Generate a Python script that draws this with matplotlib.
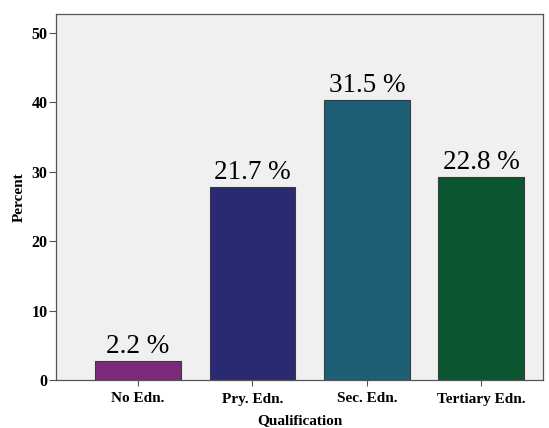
import numpy as np
import matplotlib.pyplot as plt

categories = ['No Edn.', 'Pry. Edn.', 'Sec. Edn.', 'Tertiary Edn.']
heights = [2.7, 27.8, 40.3, 29.2]
labels = ['2.2 %', '21.7 %', '31.5 %', '22.8 %']
colors = ['#7b2a7b', '#2a2a72', '#1e5f75', '#0b5530']

plt.rcParams['font.family'] = ['Liberation Serif', 'DejaVu Serif']

fig = plt.figure(figsize=(5.49, 4.28), dpi=100)
ax = fig.add_axes([56 / 549, 1 - 380 / 428, 487 / 549, 366 / 428])
ax.set_facecolor('#f0f0f0')

x = np.arange(len(categories))
ax.bar(x, heights, width=0.75, color=colors, edgecolor='#3a3a3a', linewidth=0.8)

for xi, h, lab in zip(x, heights, labels):
    ax.text(xi, h + 0.3, lab, ha='center', va='bottom', fontsize=19.5)

ax.set_xlim(-0.717, 3.54)
ax.set_ylim(0, 52.7)
ax.set_yticks([0, 10, 20, 30, 40, 50])
ax.set_xticks(x)
ax.set_xticklabels(categories, fontsize=11, fontweight='bold')
for t in ax.get_yticklabels():
    t.set_fontsize(11.5)
    t.set_fontweight('bold')
ax.tick_params(axis='y', length=5, width=0.8, color='#555555', pad=1)
ax.tick_params(axis='x', length=4, width=0.8, color='#555555', pad=5)

for s in ax.spines.values():
    s.set_color('#555555')
    s.set_linewidth(0.9)

ax.set_ylabel('Percent', fontsize=11, fontweight='bold', labelpad=4)
ax.set_xlabel('Qualification', fontsize=11, fontweight='bold', labelpad=6.5)

fig.savefig('out.png', dpi=100)
